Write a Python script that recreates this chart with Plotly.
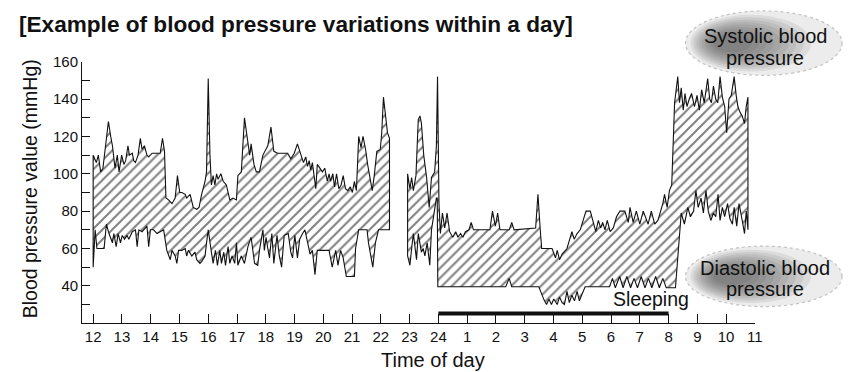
import numpy as np
import plotly.graph_objects as go

# Hours run on one continuous scale: 12..24 for the afternoon/evening,
# then 25..35 for 1..11 o'clock the next morning.
hour_ticks = list(range(12, 36))
hour_labels = [str(h) for h in range(12, 25)] + [str(h) for h in range(1, 12)]

mmhg_ticks = list(range(30, 161, 10))
mmhg_labels = [str(v) if v % 20 == 0 else "" for v in mmhg_ticks]

# ---- first recording block (12:00 - 22:20) ----
sys1_hours = [12.00, 12.11, 12.18, 12.26, 12.34, 12.44, 12.53, 12.61, 12.67, 12.76, 12.84, 12.90,
              12.99, 13.07, 13.13, 13.21, 13.26, 13.36, 13.41, 13.47, 13.56, 13.64, 13.70, 13.78,
              13.87, 13.93, 14.05, 14.33, 14.41, 14.48, 14.53, 14.62, 14.74, 14.85, 14.93, 15.01,
              15.08, 15.20, 15.25, 15.37, 15.48, 15.60, 15.68, 15.77, 15.89, 15.94, 16.00, 16.06,
              16.11, 16.17, 16.23, 16.29, 16.34, 16.44, 16.52, 16.63, 16.75, 16.86, 16.98, 17.03,
              17.15, 17.26, 17.38, 17.44, 17.49, 17.59, 17.67, 17.78, 17.90, 18.07, 18.18, 18.28,
              18.41, 18.59, 18.76, 18.87, 18.99, 19.10, 19.22, 19.31, 19.39, 19.45, 19.51, 19.56,
              19.62, 19.68, 19.74, 19.79, 19.89, 19.97, 20.05, 20.14, 20.20, 20.25, 20.33, 20.39,
              20.46, 20.54, 20.62, 20.69, 20.77, 20.85, 20.94, 21.01, 21.08, 21.15, 21.23, 21.31,
              21.38, 21.47, 21.54, 21.63, 21.70, 21.77, 21.86, 21.98, 22.03, 22.09, 22.16, 22.23,
              22.30]
sys1_values = [110, 106, 110, 101, 103, 117, 128, 120, 115, 103, 110, 101,
               110, 105, 107, 115, 110, 111, 107, 106, 110, 119, 113, 115,
               110, 109, 111, 111, 119, 112, 87, 86, 84, 87, 99, 90,
               90, 89, 87, 89, 82, 81, 82, 89, 96, 101, 151, 110,
               94, 99, 94, 100, 97, 100, 96, 94, 86, 87, 86, 99,
               101, 130, 115, 110, 116, 105, 101, 101, 110, 115, 125, 112,
               111, 111, 111, 108, 111, 116, 110, 106, 109, 104, 107, 102,
               106, 99, 92, 105, 103, 101, 103, 96, 100, 96, 100, 93,
               100, 92, 94, 99, 92, 91, 93, 90, 96, 91, 120, 114,
               120, 113, 105, 98, 91, 99, 112, 113, 122, 141, 132, 122,
               119]

dia1_hours = [12.00, 12.07, 12.13, 12.38, 12.46, 12.55, 12.67, 12.72, 12.80, 12.87, 12.95, 13.01,
              13.09, 13.18, 13.24, 13.36, 13.47, 13.53, 13.59, 13.70, 13.82, 13.87, 13.93, 13.99,
              14.10, 14.22, 14.45, 14.56, 14.68, 14.74, 14.85, 14.91, 14.97, 15.08, 15.20, 15.25,
              15.31, 15.43, 15.54, 15.60, 15.71, 15.77, 15.89, 15.94, 16.00, 16.06, 16.11, 16.17,
              16.25, 16.32, 16.40, 16.46, 16.54, 16.60, 16.69, 16.75, 16.83, 16.92, 16.98, 17.03,
              17.15, 17.26, 17.38, 17.49, 17.55, 17.61, 17.72, 17.78, 17.90, 17.95, 18.01, 18.07,
              18.13, 18.21, 18.28, 18.39, 18.47, 18.55, 18.64, 18.78, 18.87, 18.93, 19.01, 19.10,
              19.18, 19.28, 19.36, 19.45, 19.54, 19.62, 19.71, 19.79, 20.20, 20.31, 20.43, 20.51,
              20.60, 20.69, 20.80, 21.08, 21.12, 21.23, 21.52, 21.57, 21.72, 21.81, 21.92, 22.30]
dia1_values = [50, 70, 60, 60, 73, 68, 63, 68, 61, 68, 63, 67,
               65, 67, 65, 69, 70, 61, 70, 69, 71, 72, 61, 70,
               70, 68, 70, 59, 54, 59, 56, 52, 59, 59, 60, 56,
               59, 56, 58, 54, 52, 53, 56, 63, 70, 63, 58, 52,
               59, 51, 59, 52, 58, 51, 61, 52, 56, 52, 63, 51,
               56, 52, 61, 66, 59, 52, 51, 59, 70, 59, 66, 60,
               55, 68, 52, 67, 56, 50, 67, 68, 58, 55, 67, 55,
               65, 68, 70, 63, 57, 59, 46, 59, 59, 50, 59, 51,
               59, 55, 45, 45, 60, 70, 70, 63, 50, 63, 70, 70]

# ---- second recording block (22:56 - 10:46) ----
sys2_hours = [22.93, 23.01, 23.07, 23.13, 23.22, 23.30, 23.36, 23.41, 23.49, 23.59, 23.68, 23.76,
              23.87, 23.93, 23.97, 24.02, 24.07, 24.14, 24.22, 24.30, 24.39, 24.50, 24.60, 24.68,
              24.77, 24.85, 24.94, 25.06, 25.14, 25.22, 25.79, 25.88, 25.98, 26.06, 26.14, 26.46,
              26.55, 26.63, 27.38, 27.46, 27.54, 27.59, 27.78, 27.95, 28.07, 28.13, 28.21, 28.30,
              28.47, 28.59, 28.64, 28.72, 28.82, 28.93, 29.05, 29.13, 29.28, 29.39, 29.47, 29.56,
              29.64, 29.71, 29.79, 29.87, 29.97, 30.08, 30.19, 30.31, 30.48, 30.60, 30.66, 30.77,
              30.88, 31.00, 31.12, 31.29, 31.40, 31.52, 31.63, 31.80, 31.86, 31.95, 32.03, 32.11,
              32.21, 32.32, 32.38, 32.44, 32.51, 32.57, 32.64, 32.72, 32.80, 32.90, 32.99, 33.07,
              33.15, 33.24, 33.36, 33.43, 33.49, 33.56, 33.64, 33.71, 33.79, 33.87, 33.95, 34.02,
              34.10, 34.18, 34.28, 34.35, 34.41, 34.48, 34.56, 34.64, 34.70, 34.76]
sys2_values = [100, 92, 98, 91, 99, 129, 131, 127, 110, 98, 82, 98,
               101, 115, 152, 84, 68, 79, 71, 79, 69, 66, 69, 66,
               68, 66, 69, 70, 74, 70, 70, 80, 72, 79, 70, 70,
               74, 70, 71, 89, 70, 60, 60, 60, 55, 59, 54, 57,
               60, 66, 69, 65, 68, 70, 76, 80, 80, 74, 69, 75,
               71, 74, 70, 75, 69, 71, 77, 80, 80, 74, 82, 74,
               80, 73, 80, 73, 80, 73, 75, 84, 89, 82, 91, 94,
               138, 152, 138, 146, 134, 143, 136, 140, 143, 136, 142, 134,
               145, 138, 151, 140, 138, 147, 140, 138, 152, 141, 136, 122,
               140, 142, 152, 142, 136, 133, 131, 127, 136, 141]

dia2_hours = [22.93, 23.01, 23.07, 23.13, 23.18, 23.24, 23.30, 23.36, 23.41, 23.47, 23.53, 23.61,
              23.70, 23.76, 23.82, 23.87, 23.93, 23.96, 23.98, 26.34, 26.46, 26.55, 27.49, 27.67,
              27.76, 27.84, 27.93, 28.01, 28.13, 28.21, 28.30, 28.38, 28.47, 28.55, 28.64, 28.73,
              28.82, 28.90, 28.99, 29.10, 29.95, 30.05, 30.15, 30.30, 30.42, 30.55, 30.68, 30.80,
              30.92, 31.05, 31.18, 31.30, 31.42, 31.55, 31.68, 31.80, 31.92, 32.15, 32.24, 32.44,
              32.55, 32.67, 32.76, 32.87, 32.95, 33.03, 33.13, 33.21, 33.30, 33.38, 33.47, 33.56,
              33.64, 33.72, 33.79, 33.87, 33.95, 34.05, 34.13, 34.22, 34.28, 34.37, 34.45, 34.56,
              34.64, 34.70, 34.76]
dia2_values = [56, 51, 60, 68, 61, 54, 68, 63, 58, 60, 56, 63,
               51, 70, 75, 81, 87, 87, 39.5, 39.5, 44, 39.5, 39.5, 32.5,
               30, 33, 30, 33, 30, 34, 31, 30, 37, 31, 35, 32,
               37, 32, 35, 39.5, 39.5, 44, 39, 45, 39, 45, 39, 44,
               39, 45, 39, 44, 39, 45, 39, 44, 39, 39, 39, 79,
               73, 82, 77, 80, 91, 82, 87, 79, 91, 80, 75, 79,
               77, 89, 75, 82, 77, 84, 76, 73, 82, 72, 84, 75,
               68, 80, 70]

# sleeping period bar
sleep_span = [24, 32]
sleep_level = 25.2

W, H = 855, 372
INK = "#111111"
FONT = "Liberation Sans, Arial, Helvetica, sans-serif"

fig = go.Figure()


def add_band(sh, sv, dh, dv):
    """Closed outline: systolic left->right, diastolic right->left, hatched inside."""
    xs = list(sh) + list(dh[::-1]) + [sh[0]]
    ys = list(sv) + list(dv[::-1]) + [sv[0]]
    fig.add_trace(go.Scatter(
        x=xs, y=ys, mode="lines", fill="toself", fillcolor="white",
        fillpattern=dict(shape="/", fgcolor="#000000", bgcolor="white", size=7, solidity=0.28),
        line=dict(color=INK, width=1.1), hoverinfo="skip", showlegend=False,
        xaxis="x", yaxis="y"))


add_band(sys1_hours, sys1_values, dia1_hours, dia1_values)
add_band(sys2_hours, sys2_values, dia2_hours, dia2_values)

fig.add_trace(go.Scatter(
    x=sleep_span, y=[sleep_level, sleep_level], mode="lines",
    line=dict(color=INK, width=4), hoverinfo="skip", showlegend=False,
    xaxis="x", yaxis="y"))


# grey oval badges in page pixels (x2/y2 overlay): a pale ellipse with
# stacked translucent ellipses giving a soft dark core on the left
def add_badge(cx, cy, rx, ry, lines):
    fig.add_shape(type="circle", xref="x2", yref="y2",
                  x0=cx - rx, x1=cx + rx, y0=cy - ry, y1=cy + ry,
                  fillcolor="#ececec", line=dict(color="#c2c2c2", width=1.2, dash="dot"),
                  layer="above")
    for k in range(9):
        s = 0.88 - 0.075 * k
        ccx = cx - rx * (0.10 + 0.035 * k)
        fig.add_shape(type="circle", xref="x2", yref="y2",
                      x0=ccx - rx * s * 0.95, x1=ccx + rx * s * 0.8,
                      y0=cy - ry * s, y1=cy + ry * s,
                      fillcolor="rgba(70,70,70,0.1)", line=dict(width=0),
                      layer="above")
    for (tx, ty, txt) in lines:
        fig.add_annotation(x=tx, y=ty, xref="x2", yref="y2", text=txt, showarrow=False,
                           xanchor="center", yanchor="middle",
                           font=dict(family=FONT, size=20, color=INK))


add_badge(771, 35, 79, 33, [(773, 28, "Systolic blood"), (772, 50, "pressure")])
add_badge(771, 274, 79, 31, [(772, 265, "Diastolic blood"), (772, 287, "pressure")])

# page texts
fig.add_annotation(x=17, y=16, xref="x2", yref="y2", xanchor="left", yanchor="middle",
                   text="<b>[Example of blood pressure variations within a day]</b>",
                   showarrow=False, font=dict(family=FONT, size=22.6, color=INK))
fig.add_annotation(x=30, y=184, xref="x2", yref="y2", textangle=-90,
                   text="Blood pressure value (mmHg)", showarrow=False,
                   font=dict(family=FONT, size=19.5, color=INK))
fig.add_annotation(x=437, y=360, xref="x2", yref="y2",
                   text="Time of day", showarrow=False,
                   font=dict(family=FONT, size=20, color=INK))
fig.add_annotation(x=657, y=297, xref="x2", yref="y2",
                   text="Sleeping", showarrow=False,
                   font=dict(family=FONT, size=19.5, color=INK))

fig.update_layout(
    width=W, height=H,
    margin=dict(l=0, r=0, t=0, b=0),
    paper_bgcolor="white", plot_bgcolor="rgba(0,0,0,0)",
    font=dict(family=FONT, color=INK),
    showlegend=False,
    xaxis=dict(domain=[83 / W, 762 / W], range=[11.62, 35], anchor="y",
               tickmode="array", tickvals=hour_ticks, ticktext=hour_labels,
               ticks="inside", ticklen=9, tickwidth=1, tickcolor=INK,
               showline=True, linecolor=INK, linewidth=1.3,
               showgrid=False, zeroline=False, tickfont=dict(size=15, color=INK)),
    yaxis=dict(domain=[1 - 322 / H, 1 - 54 / H], range=[20, 160], anchor="x",
               tickmode="array", tickvals=mmhg_ticks, ticktext=mmhg_labels,
               ticks="inside", ticklen=8, tickwidth=1, tickcolor=INK,
               showline=True, linecolor=INK, linewidth=1.3,
               showgrid=False, zeroline=False, tickfont=dict(size=15, color=INK)),
    xaxis2=dict(domain=[0, 1], range=[0, W], anchor="y2", visible=False, fixedrange=True),
    yaxis2=dict(domain=[0, 1], range=[H, 0], anchor="x2", visible=False, fixedrange=True),
)

fig.write_html("out.html")
